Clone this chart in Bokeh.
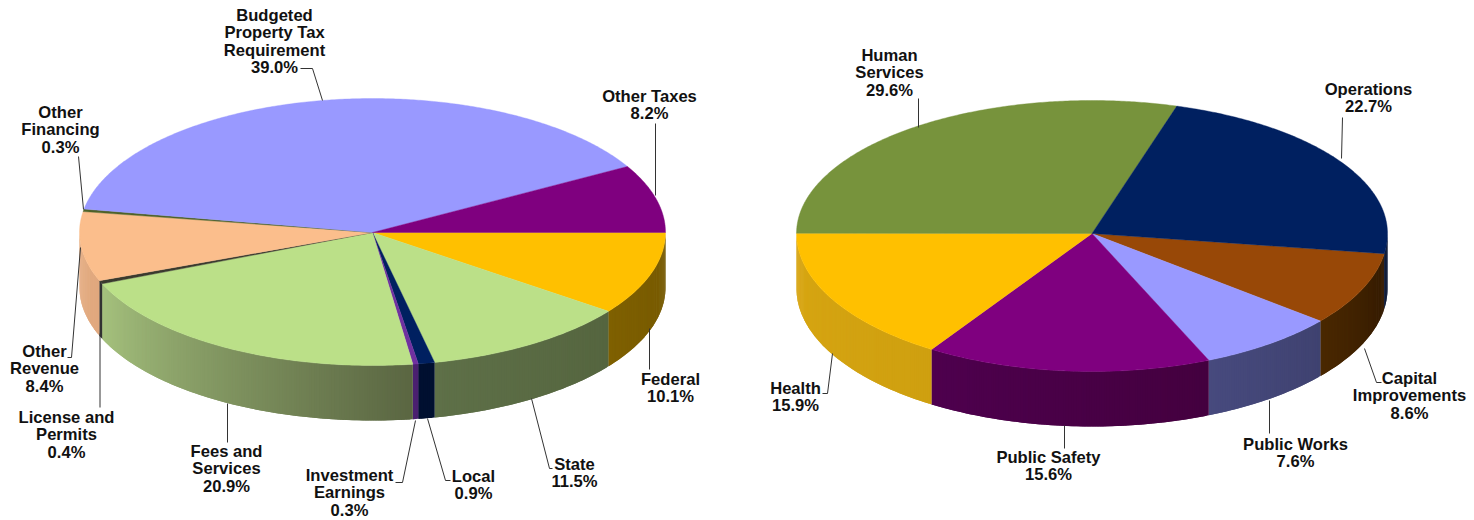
import math
from bokeh.plotting import figure
from bokeh.embed import file_html
from bokeh.resources import INLINE
from bokeh.core.properties import value

# ---- data ----
rev_names = ["Federal", "State", "Local", "Investment\nEarnings", "Fees and\nServices",
             "License and\nPermits", "Other\nRevenue", "Other\nFinancing",
             "Budgeted\nProperty Tax\nRequirement", "Other Taxes"]
rev_values = [10.1, 11.5, 0.9, 0.3, 20.9, 0.4, 8.4, 0.3, 39.0, 8.2]
exp_names = ["Capital\nImprovements", "Public Works", "Public Safety", "Health",
             "Human\nServices", "Operations"]
exp_values = [8.6, 7.6, 15.6, 15.9, 29.6, 22.7]

# ---- styles ----
rev_top = ["#FFC000", "#BBE088", "#002060", "#7030A0", "#BBE088", "#3A3A2E", "#FBBE8C", "#4F6228", "#9999FF", "#7F007F"]
rev_side_l = ["#7F6000", "#5E7048", "#001030", "#4A2070", "#A6C27E", "#333333", "#E8B085", "#4F6228", "#9999FF", "#7F007F"]
rev_side_r = ["#745800", "#55653F", "#001030", "#4A2070", "#5A6642", "#333333", "#E0A87E", "#4F6228", "#9999FF", "#7F007F"]
exp_top = ["#984807", "#9999FF", "#7F007F", "#FFC000", "#77933C", "#002060"]
exp_side_l = ["#4A2800", "#474A7E", "#4E004E", "#D8A612", "#77933C", "#001030"]
exp_side_r = ["#331A00", "#3F4270", "#44003F", "#CFA010", "#77933C", "#000C20"]

LINE_H = 17.4
FONT = value("Liberation Sans")

# ---- layout (pixel space of the page) ----
rev_geo = dict(cx=372, cy=232, rx=293, ry=134, ry_front=133, depth=55, start=0.0)
exp_geo = dict(cx=1091.5, cy=233, rx=295.5, ry=133, ry_front=138, depth=55, start=8.4)
rev_label_at = [(670, 379), (574, 464), (473, 476), (349, 475), (226, 451), (66, 417),
                (44, 351), (60, 112), (274, 15), (649, 96)]
exp_label_at = [(1409, 378), (1295, 444), (1048, 457), (795, 388), (889, 55), (1368, 89)]
leaders = [
    ([300, 312, 322], [68, 68, 100]),
    ([655, 655], [123, 195]),
    ([649, 649], [328, 369]),
    ([531, 549, 552], [398, 468, 468]),
    ([427, 445, 450], [418, 480, 480]),
    ([415, 402, 395], [420, 482, 482]),
    ([227, 227], [403, 442]),
    ([99.5, 99.5], [333, 407]),
    ([80, 71, 67], [247, 357, 357]),
    ([83, 78], [209, 156]),
    ([918, 918], [98, 127]),
    ([1342, 1341], [117, 158]),
    ([1364, 1376, 1381], [348, 382, 382]),
    ([1269, 1269], [400, 433]),
    ([1064, 1064], [425, 448]),
    ([832, 827, 822], [353, 393, 393]),
]


def mix(a, b, t):
    ca = [int(a[i:i + 2], 16) for i in (1, 3, 5)]
    cb = [int(b[i:i + 2], 16) for i in (1, 3, 5)]
    return "#%02x%02x%02x" % tuple(round(x + (y - x) * t) for x, y in zip(ca, cb))


def ell(g, deg):
    r = math.radians(deg)
    s = math.sin(r)
    return g["cx"] + g["rx"] * math.cos(r), g["cy"] + (g["ry_front"] if s > 0 else g["ry"]) * s


def build(vals, tops, side_l, side_r, g):
    total = sum(vals)
    a = g["start"]
    sx, sy, sc = [], [], []
    tx, ty, tc = [], [], []
    for v, top, sl, sr in zip(vals, tops, side_l, side_r):
        b = a + v / total * 360
        n = max(2, int((b - a) / 0.5) + 1)
        angs = [a + (b - a) * i / n for i in range(n + 1)]
        pts = [ell(g, t) for t in angs]
        tx.append([g["cx"]] + [q[0] for q in pts])
        ty.append([g["cy"]] + [q[1] for q in pts])
        tc.append(top)
        for i in range(n):
            t0, t1 = angs[i], angs[min(i + 2, n)]
            for lo, hi in ((t0, t1), (t0 - 360, t1 - 360)):
                lo2, hi2 = max(lo, 0), min(hi, 180)
                if hi2 <= lo2:
                    continue
                p0, p1 = ell(g, lo2), ell(g, hi2)
                f = 1 - i / n
                sx.append([p0[0], p1[0], p1[0], p0[0]])
                sy.append([p0[1], p1[1], p1[1] + g["depth"], p0[1] + g["depth"]])
                sc.append(mix(sl, sr, f))
        a = b
    return sx, sy, sc, tx, ty, tc


p = figure(width=1474, height=520, x_range=(0, 1474), y_range=(520, 0),
           output_backend="svg", toolbar_location=None, min_border=0)
p.axis.visible = False
p.grid.visible = False
p.outline_line_color = None
p.background_fill_color = "#ffffff"
p.border_fill_color = "#ffffff"

for vals, tops, sl, sr, g in ((rev_values, rev_top, rev_side_l, rev_side_r, rev_geo),
                              (exp_values, exp_top, exp_side_l, exp_side_r, exp_geo)):
    sx, sy, sc, tx, ty, tc = build(vals, tops, sl, sr, g)
    p.patches(sx, sy, fill_color=sc, line_color=None)
    p.patches(tx, ty, fill_color=tc, line_color=tc, line_width=0.4)

p.multi_line([l[0] for l in leaders], [l[1] for l in leaders], line_color="#333333", line_width=1)

lx, ly, lt = [], [], []
for names, vals, at in ((rev_names, rev_values, rev_label_at), (exp_names, exp_values, exp_label_at)):
    for name, v, (x, y) in zip(names, vals, at):
        lines = name.split("\n") + [f"{v:.1f}%"]
        for i, s in enumerate(lines):
            lx.append(x)
            ly.append(y + i * LINE_H)
            lt.append(s)

p.text(lx, ly, text=lt, text_font=FONT, text_font_style="bold", text_font_size="16.6px",
       text_color="#111111", text_align="center", text_baseline="middle")

open("out.html", "w").write(file_html(p, INLINE))
